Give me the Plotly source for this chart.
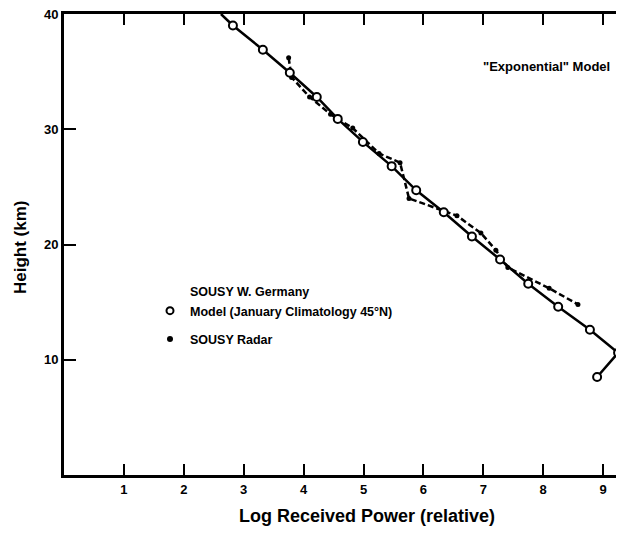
import plotly.graph_objects as go

# Model (January Climatology 45N) - open circles, solid line
model_power = [2.82, 3.32, 3.77, 4.22, 4.57, 4.99, 5.47, 5.88, 6.34, 6.81, 7.28, 7.75, 8.25, 8.78, 9.25, 8.90]
model_height = [39.0, 36.9, 34.9, 32.8, 30.9, 28.9, 26.8, 24.7, 22.8, 20.7, 18.7, 16.6, 14.6, 12.6, 10.6, 8.5]

# SOUSY Radar - filled dots, dashed line
radar_power = [3.75, 3.80, 4.10, 4.45, 4.82, 5.26, 5.61, 5.76, 6.56, 6.96, 7.21, 7.41, 8.10, 8.58]
radar_height = [36.2, 34.5, 32.8, 31.3, 30.1, 27.9, 27.1, 24.0, 22.5, 21.0, 19.5, 18.0, 16.2, 14.8]

x_ticks = [1, 2, 3, 4, 5, 6, 7, 8, 9]
y_ticks = [10, 20, 30, 40]

FONT = "Liberation Sans, Arial, Helvetica, sans-serif"

# page body has an 8px margin; keep the figure inside the viewport
OFF = 8
W, H = 624 - OFF, 535 - 2 * OFF
# plot area in viewport pixels
VL, VT, VB, VR = 64, 14, 475, 624
L, T = VL - OFF, VT - OFF
B = H - (VB - OFF)
R = W - (VR - OFF)
PW, PH = VR - VL, VB - VT
PX_PER_UNIT = 59.9


def px(xv):
    return (xv - VL) / PW


def py(yv):
    return (VB - yv) / PH


fig = go.Figure()

fig.add_trace(go.Scatter(
    x=radar_power, y=radar_height, mode="lines+markers",
    line=dict(color="black", width=2.5, dash="6px,3px"),
    marker=dict(symbol="circle", size=5, color="black"),
    showlegend=False,
))
fig.add_trace(go.Scatter(
    x=[2.62] + model_power, y=[40.0] + model_height, mode="lines",
    line=dict(color="black", width=2.5),
    showlegend=False, hoverinfo="skip",
))
fig.add_trace(go.Scatter(
    x=model_power, y=model_height, mode="markers",
    marker=dict(symbol="circle", size=8, color="white", line=dict(color="black", width=2)),
    showlegend=False, cliponaxis=False,
))

# legend entries
fig.add_trace(go.Scatter(
    x=[None], y=[None], mode="markers", name="Model (January Climatology 45°N)",
    marker=dict(symbol="circle", size=7, color="white", line=dict(color="black", width=2)),
    legendgroup="a",
))
fig.add_trace(go.Scatter(
    x=[None], y=[None], mode="markers", name="SOUSY Radar",
    marker=dict(symbol="circle", size=6, color="black"),
    legendgroup="b",
))

fig.update_layout(
    width=W, height=H,
    margin=dict(l=L, r=R, t=T, b=B, autoexpand=False),
    paper_bgcolor="white", plot_bgcolor="white",
    font=dict(family=FONT, color="black"),
    legend=dict(
        x=px(150), y=py(296), xanchor="left", yanchor="top",
        bgcolor="rgba(0,0,0,0)", borderwidth=0,
        font=dict(size=12.5, weight="bold"),
        itemwidth=30, tracegroupgap=9,
    ),
    annotations=[
        dict(text="SOUSY W. Germany", x=px(188), y=py(292), xref="paper", yref="paper",
             xanchor="left", yanchor="middle", showarrow=False,
             font=dict(size=12.5, weight="bold")),
        dict(text="\"Exponential\" Model", x=px(481), y=py(67), xref="paper", yref="paper",
             xanchor="left", yanchor="middle", showarrow=False,
             font=dict(size=13, weight="bold")),
        dict(text="Log Received Power (relative)", x=px(367), y=py(516), xref="paper", yref="paper",
             xanchor="center", yanchor="middle", showarrow=False,
             font=dict(size=18, weight="bold")),
        dict(text="Height (km)", x=px(20), y=py(247), xref="paper", yref="paper",
             xanchor="center", yanchor="middle", showarrow=False, textangle=-90,
             font=dict(size=17, weight="bold")),
    ],
)

fig.update_xaxes(
    range=[0, PW / PX_PER_UNIT], tickvals=x_ticks, ticktext=[str(v) for v in x_ticks],
    ticks="inside", ticklen=11, tickwidth=2, tickcolor="black",
    showline=True, linewidth=3, linecolor="black", mirror="ticks",
    showgrid=False, zeroline=False, automargin=False, ticklabeloverflow="allow",
    tickfont=dict(size=13, weight="bold"),
)
fig.update_yaxes(
    range=[0, 40], tickvals=y_ticks, ticktext=[str(v) for v in y_ticks],
    ticks="inside", ticklen=12, tickwidth=2, tickcolor="black",
    showline=True, linewidth=3, linecolor="black",
    showgrid=False, zeroline=False, automargin=False, ticklabeloverflow="allow",
    tickfont=dict(size=13, weight="bold"),
)

fig.write_html("out.html")
